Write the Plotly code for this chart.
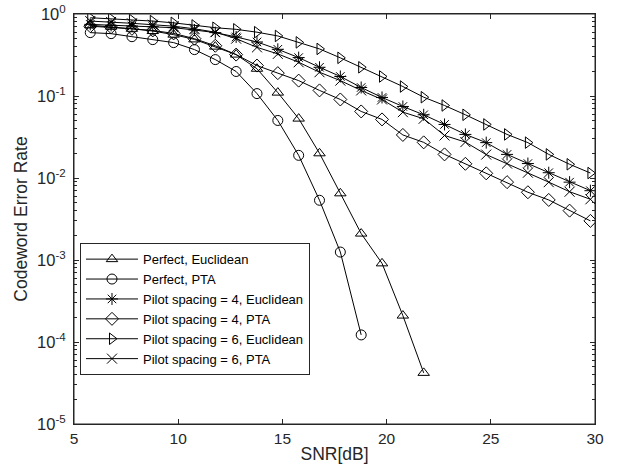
import plotly.graph_objects as go

snr_all = [5.78 + k for k in range(25)]

perfect_euclid = [0.73, 0.70, 0.66, 0.62, 0.56, 0.49, 0.40, 0.32, 0.215, 0.110,
                  0.053, 0.020, 0.0065, 0.0021, 9.1e-4, 2.1e-4, 4.2e-5]
perfect_pta = [0.593, 0.576, 0.529, 0.487, 0.448, 0.368, 0.278, 0.199, 0.107,
               0.0503, 0.0189, 0.00535, 0.00125, 1.22e-4]
p4_euclid = [0.747, 0.726, 0.714, 0.70, 0.681, 0.638, 0.593, 0.525, 0.456, 0.371,
             0.294, 0.224, 0.173, 0.127, 0.096, 0.0745, 0.059, 0.045, 0.034, 0.027,
             0.0194, 0.0150, 0.0116, 0.0089, 0.0070]
p4_pta = [0.71, 0.69, 0.66, 0.63, 0.58, 0.50, 0.41, 0.32, 0.235, 0.19,
          0.154, 0.117, 0.0907, 0.0648, 0.0518, 0.0335, 0.0272, 0.0194, 0.0149, 0.0114,
          0.0089, 0.0067, 0.0054, 0.0040, 0.0030]
p6_euclid = [0.90, 0.877, 0.845, 0.82, 0.78, 0.726, 0.68, 0.65, 0.60, 0.54,
             0.451, 0.375, 0.292, 0.224, 0.173, 0.1305, 0.0967, 0.0766, 0.059, 0.045,
             0.034, 0.027, 0.0194, 0.0147, 0.0115]
p6_pta = [0.82, 0.80, 0.77, 0.74, 0.71, 0.66, 0.60, 0.50, 0.392, 0.326,
          0.258, 0.195, 0.154, 0.117, 0.0907, 0.0635, 0.0528, 0.033, 0.0274, 0.0193,
          0.0150, 0.0116, 0.0089, 0.0068, 0.0055]

series = [
    ("Perfect, Euclidean", perfect_euclid, "triangle-up-open"),
    ("Perfect, PTA", perfect_pta, "circle-open"),
    ("Pilot spacing = 4, Euclidean", p4_euclid, "asterisk-open"),
    ("Pilot spacing = 4, PTA", p4_pta, "diamond-open"),
    ("Pilot spacing = 6, Euclidean", p6_euclid, "triangle-right-open"),
    ("Pilot spacing = 6, PTA", p6_pta, "x-thin-open"),
]

y_exponents = [-5, -4, -3, -2, -1, 0]
y_tickvals = [10.0 ** e for e in y_exponents]
y_ticktext = ["10<sup>%d</sup>" % e for e in y_exponents]
y_minorvals = [m * 10.0 ** e for e in y_exponents[:-1] for m in range(2, 10)]
x_tickvals = [5, 10, 15, 20, 25, 30]

fig = go.Figure()
for name, vals, sym in series:
    fig.add_trace(go.Scatter(
        x=snr_all[:len(vals)], y=vals, name=name, mode="lines+markers",
        line=dict(color="black", width=1),
        marker=dict(symbol=sym, size=10, color="black", line=dict(color="black", width=1)),
    ))

axcol = "#262626"
FONT = "Liberation Sans"
fig.update_layout(
    width=619, height=474,
    margin=dict(l=74, r=24, t=14, b=50, autoexpand=False),
    paper_bgcolor="white", plot_bgcolor="white",
    font=dict(family=FONT, size=14, color=axcol),
    showlegend=True,
    legend=dict(x=0.0115, y=0.441, xanchor="left", yanchor="top",
                bgcolor="white", bordercolor=axcol, borderwidth=1,
                font=dict(family=FONT, size=13, color="black"),
                itemwidth=52, tracegroupgap=0),
)
# plot frame (box around the axes area)
fig.add_shape(type="rect", xref="paper", yref="paper", x0=0, x1=1, y0=0, y1=1,
              line=dict(color=axcol, width=1), fillcolor="rgba(0,0,0,0)", layer="above")
fig.update_xaxes(
    range=[5, 30], tickmode="array", tickvals=x_tickvals, ticks="inside", ticklen=5,
    showline=True, linecolor=axcol, linewidth=1, mirror="ticks", tickcolor=axcol,
    showgrid=False, zeroline=False, automargin=False,
    tickfont=dict(family=FONT, size=15.5, color=axcol),
    title=dict(text="SNR[dB]", standoff=2, font=dict(family=FONT, size=17.5, color=axcol)),
)
fig.update_yaxes(
    type="log", range=[-5, 0], tickmode="array", tickvals=y_tickvals, ticktext=y_ticktext,
    ticks="inside", ticklen=5, ticklabelstandoff=4,
    showline=True, linecolor=axcol, linewidth=1, mirror="ticks", tickcolor=axcol,
    showgrid=False, zeroline=False, automargin=False,
    tickfont=dict(family=FONT, size=16.5, color=axcol),
    minor=dict(tickmode="array", tickvals=y_minorvals, ticks="inside", ticklen=3,
               tickcolor=axcol, showgrid=False),
    title=dict(text="Codeword Error Rate", standoff=4, font=dict(family=FONT, size=17.5, color=axcol)),
)
fig.write_html("out.html", config={"displayModeBar": False},
               post_script="document.body.style.margin='0px';")
